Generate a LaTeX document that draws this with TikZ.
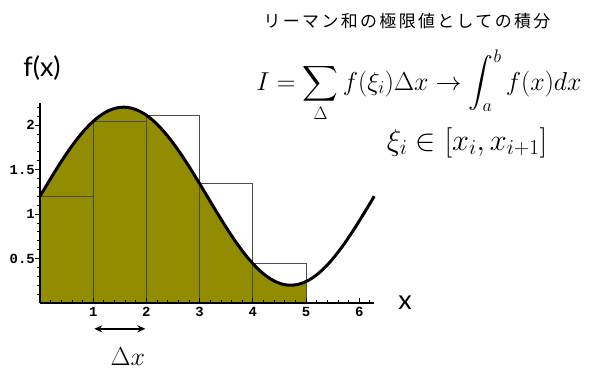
\RequirePackage{fix-cm}
\documentclass[tikz,border=0pt]{standalone}
\usepackage{fontspec}
\usepackage{amsmath}
\usetikzlibrary{arrows.meta}
\newfontfamily\cjkfont{Noto Sans CJK JP}[LetterSpace=14]
\newfontfamily\tickfont{Liberation Mono}
\newfontfamily\labfont{Lato}
\definecolor{olivefill}{RGB}{145,140,0}

\begin{document}
\begin{tikzpicture}[
    x=1bp, y=1bp,
    curve/.style={line width=3bp, line join=round, black},
    rect/.style={draw=black!70, line width=0.8bp},
    axl/.style={line width=1.1bp, black},
    tk/.style={font=\tickfont\bfseries\fontsize{14}{14}\selectfont, inner sep=1pt},
    lab/.style={font=\labfont\fontsize{27}{30}\selectfont, inner sep=0pt},
    eq/.style={font=\fontsize{26}{30}\selectfont, inner sep=0pt},
    >=Stealth
  ]
  \useasboundingbox (0,0) rectangle (599,375);

  %% Graph ──────────────────────────────────
  \begin{scope}[shift={(40,72)}, x=53.2bp, y=89bp]
    \fill[olivefill] (0,0)
      -- plot[domain=0:5, samples=80, smooth] (\x,{sin(\x r)+1.2})
      -- (5,0) -- cycle;
    \foreach \k in {0,...,4}
      \draw[rect] (\k,0) rectangle ({\k+1},{sin(\k r)+1.2});

    % axes and ticks
    \draw[axl] (0,0) -- (2*pi,0);
    \draw[axl] (0,0) -- (0,2.25);
    \foreach \t in {0.2,0.4,...,6.21}
      \draw[line width=0.7bp] (\t,0) -- ++(0pt,3bp);
    \foreach \t in {0.1,0.2,...,2.21}
      \draw[line width=0.7bp] (0,\t) -- ++(-3bp,0pt);
    \foreach \k in {1,...,6} {
      \draw[line width=0.9bp] (\k,0) -- ++(0pt,5bp);
      \node[tk, below=3bp] (xl\k) at (\k,0) {\k};
    }
    \foreach \v/\n in {0.5/a,1/b,1.5/c,2/d} {
      \draw[line width=0.9bp] (0,\v) -- ++(-5bp,0pt);
      \node[tk, left=4bp] (yl\n) at (0,\v) {\v};
    }

    \draw[curve] plot[domain=0:2*pi, samples=120, smooth] (\x,{sin(\x r)+1.2});

    % step width
    \coordinate (dxa) at (1.02,-0.29);
    \coordinate (dxb) at (1.98,-0.29);
    \draw[<->, line width=1.5bp, >={Stealth[length=8bp,width=7bp]}] (dxa) -- (dxb);
    \node[eq] (dxl) at (1.65,-0.6) {$\Delta x$};
  \end{scope}

  %% Labels ─────────────────────────────────
  \node[lab] (fx) at (42,307) {f(x)};
  \node[lab] (xx) at (405,72) {x};
  \node[font=\cjkfont\fontsize{17}{20}\selectfont] (ttl) at (407,354)
        {リーマン和の極限値としての積分};
  \node[eq, anchor=base] (sum) at (419,285)
        {$\displaystyle I=\sum_{\Delta} f(\xi_i)\Delta x \to \int_a^b f(x)dx$};
  \node[eq, font=\fontsize{30.5}{36}\selectfont, anchor=base] (xi) at (467,225)
        {$\xi_i \in [x_i, x_{i+1}]$};

\end{tikzpicture}
\end{document}
